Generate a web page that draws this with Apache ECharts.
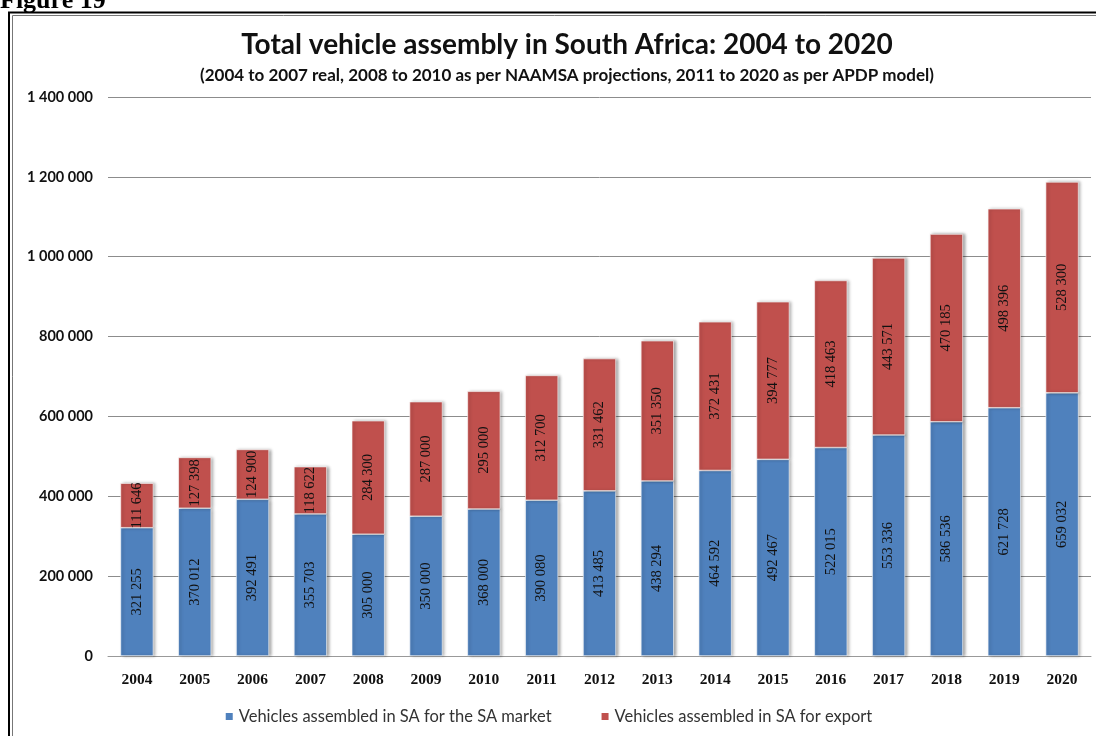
<!DOCTYPE html>
<html>
<head>
<meta charset="utf-8">
<script src="https://cdn.jsdelivr.net/npm/echarts@6/dist/echarts.min.js"></script>
<style>
  html, body { margin: 0; padding: 0; background: #fff; }
  #chart { width: 1096px; height: 736px; }
</style>
</head>
<body>
<div id="chart"></div>
<script>
// Vehicle assembly figures, 2004-2020
const years = ['2004','2005','2006','2007','2008','2009','2010','2011','2012','2013','2014','2015','2016','2017','2018','2019','2020'];
const localMarket = [321255, 370012, 392491, 355703, 305000, 350000, 368000, 390080, 413485, 438294, 464592, 492467, 522015, 553336, 586536, 621728, 659032];
const exportMarket = [111646, 127398, 124900, 118622, 284300, 287000, 295000, 312700, 331462, 351350, 372431, 394777, 418463, 443571, 470185, 498396, 528300];
const seriesNames = ['Vehicles assembled in SA for the SA market', 'Vehicles assembled in SA for export'];
const yTicks = { min: 0, max: 1400000, interval: 200000 };

// thousands separated by a space, e.g. 1 400 000
function spaced(v) {
  return String(v).replace(/\B(?=(\d{3})+(?!\d))/g, ' ');
}

const chart = echarts.init(document.getElementById('chart'));

const barLabel = {
  show: true,
  position: 'inside',
  rotate: 90,
  color: '#111',
  fontFamily: 'Liberation Serif',
  fontSize: 14.5,
  formatter: p => spaced(p.value)
};

const barShadow = {
  shadowColor: 'rgba(0,0,0,0.35)',
  shadowBlur: 3,
  shadowOffsetX: 2,
  shadowOffsetY: 0,
  borderColor: '#ffffff',
  borderWidth: 0.6
};

chart.setOption({
  animation: false,
  backgroundColor: '#ffffff',
  title: [
    {
      text: 'Total vehicle assembly in South Africa: 2004 to 2020',
      left: 562,
      top: 26,
      textAlign: 'center',
      textStyle: { fontFamily: 'Lato', fontWeight: 'bold', fontSize: 28, color: '#111' }
    },
    {
      text: '(2004 to 2007 real, 2008 to 2010 as per NAAMSA projections, 2011 to 2020 as per APDP model)',
      left: 562,
      top: 62,
      textAlign: 'center',
      textStyle: { fontFamily: 'Lato', fontWeight: 'bold', fontSize: 17, color: '#111' }
    }
  ],
  graphic: [
    {
      type: 'text',
      left: 0,
      top: -12,
      style: { text: 'Figure 19', font: 'bold 26px "Liberation Serif"', fill: '#000' }
    },
    {
      type: 'rect',
      shape: { x: 9, y: 12.5, width: 1200, height: 900 },
      style: { fill: 'none', stroke: '#000', lineWidth: 2 }
    },
    {
      type: 'rect',
      shape: { x: 12.5, y: 15.5, width: 1200, height: 900 },
      style: { fill: 'none', stroke: '#777', lineWidth: 1 }
    }
  ],
  legend: {
    bottom: 6,
    left: 'center',
    itemGap: 48,
    itemWidth: 9,
    itemHeight: 9,
    icon: 'rect',
    textStyle: { fontFamily: 'Lato', fontSize: 16.5, color: '#333' },
    data: seriesNames
  },
  grid: { left: 108, right: 5, top: 97, bottom: 80 },
  xAxis: {
    type: 'category',
    data: years,
    axisTick: { show: false },
    axisLine: { lineStyle: { color: '#999', width: 1 } },
    axisLabel: { margin: 16, fontFamily: 'Liberation Serif', fontWeight: 'bold', fontSize: 15.5, color: '#111' }
  },
  yAxis: {
    type: 'value',
    min: yTicks.min,
    max: yTicks.max,
    interval: yTicks.interval,
    axisLine: { show: false },
    axisTick: { show: false },
    splitLine: { lineStyle: { color: '#8c8c8c', width: 1 } },
    axisLabel: {
      margin: 15,
      fontFamily: 'Lato',
      fontWeight: 'bold',
      fontSize: 14.5,
      color: '#111',
      formatter: v => spaced(v)
    }
  },
  series: [
    {
      name: seriesNames[0],
      type: 'bar',
      stack: 'total',
      barWidth: 33,
      data: localMarket,
      itemStyle: Object.assign({ color: '#4f81bd' }, barShadow),
      label: barLabel
    },
    {
      name: seriesNames[1],
      type: 'bar',
      stack: 'total',
      barWidth: 33,
      data: exportMarket,
      itemStyle: Object.assign({ color: '#c0504d' }, barShadow),
      label: barLabel
    }
  ]
});
</script>
</body>
</html>
